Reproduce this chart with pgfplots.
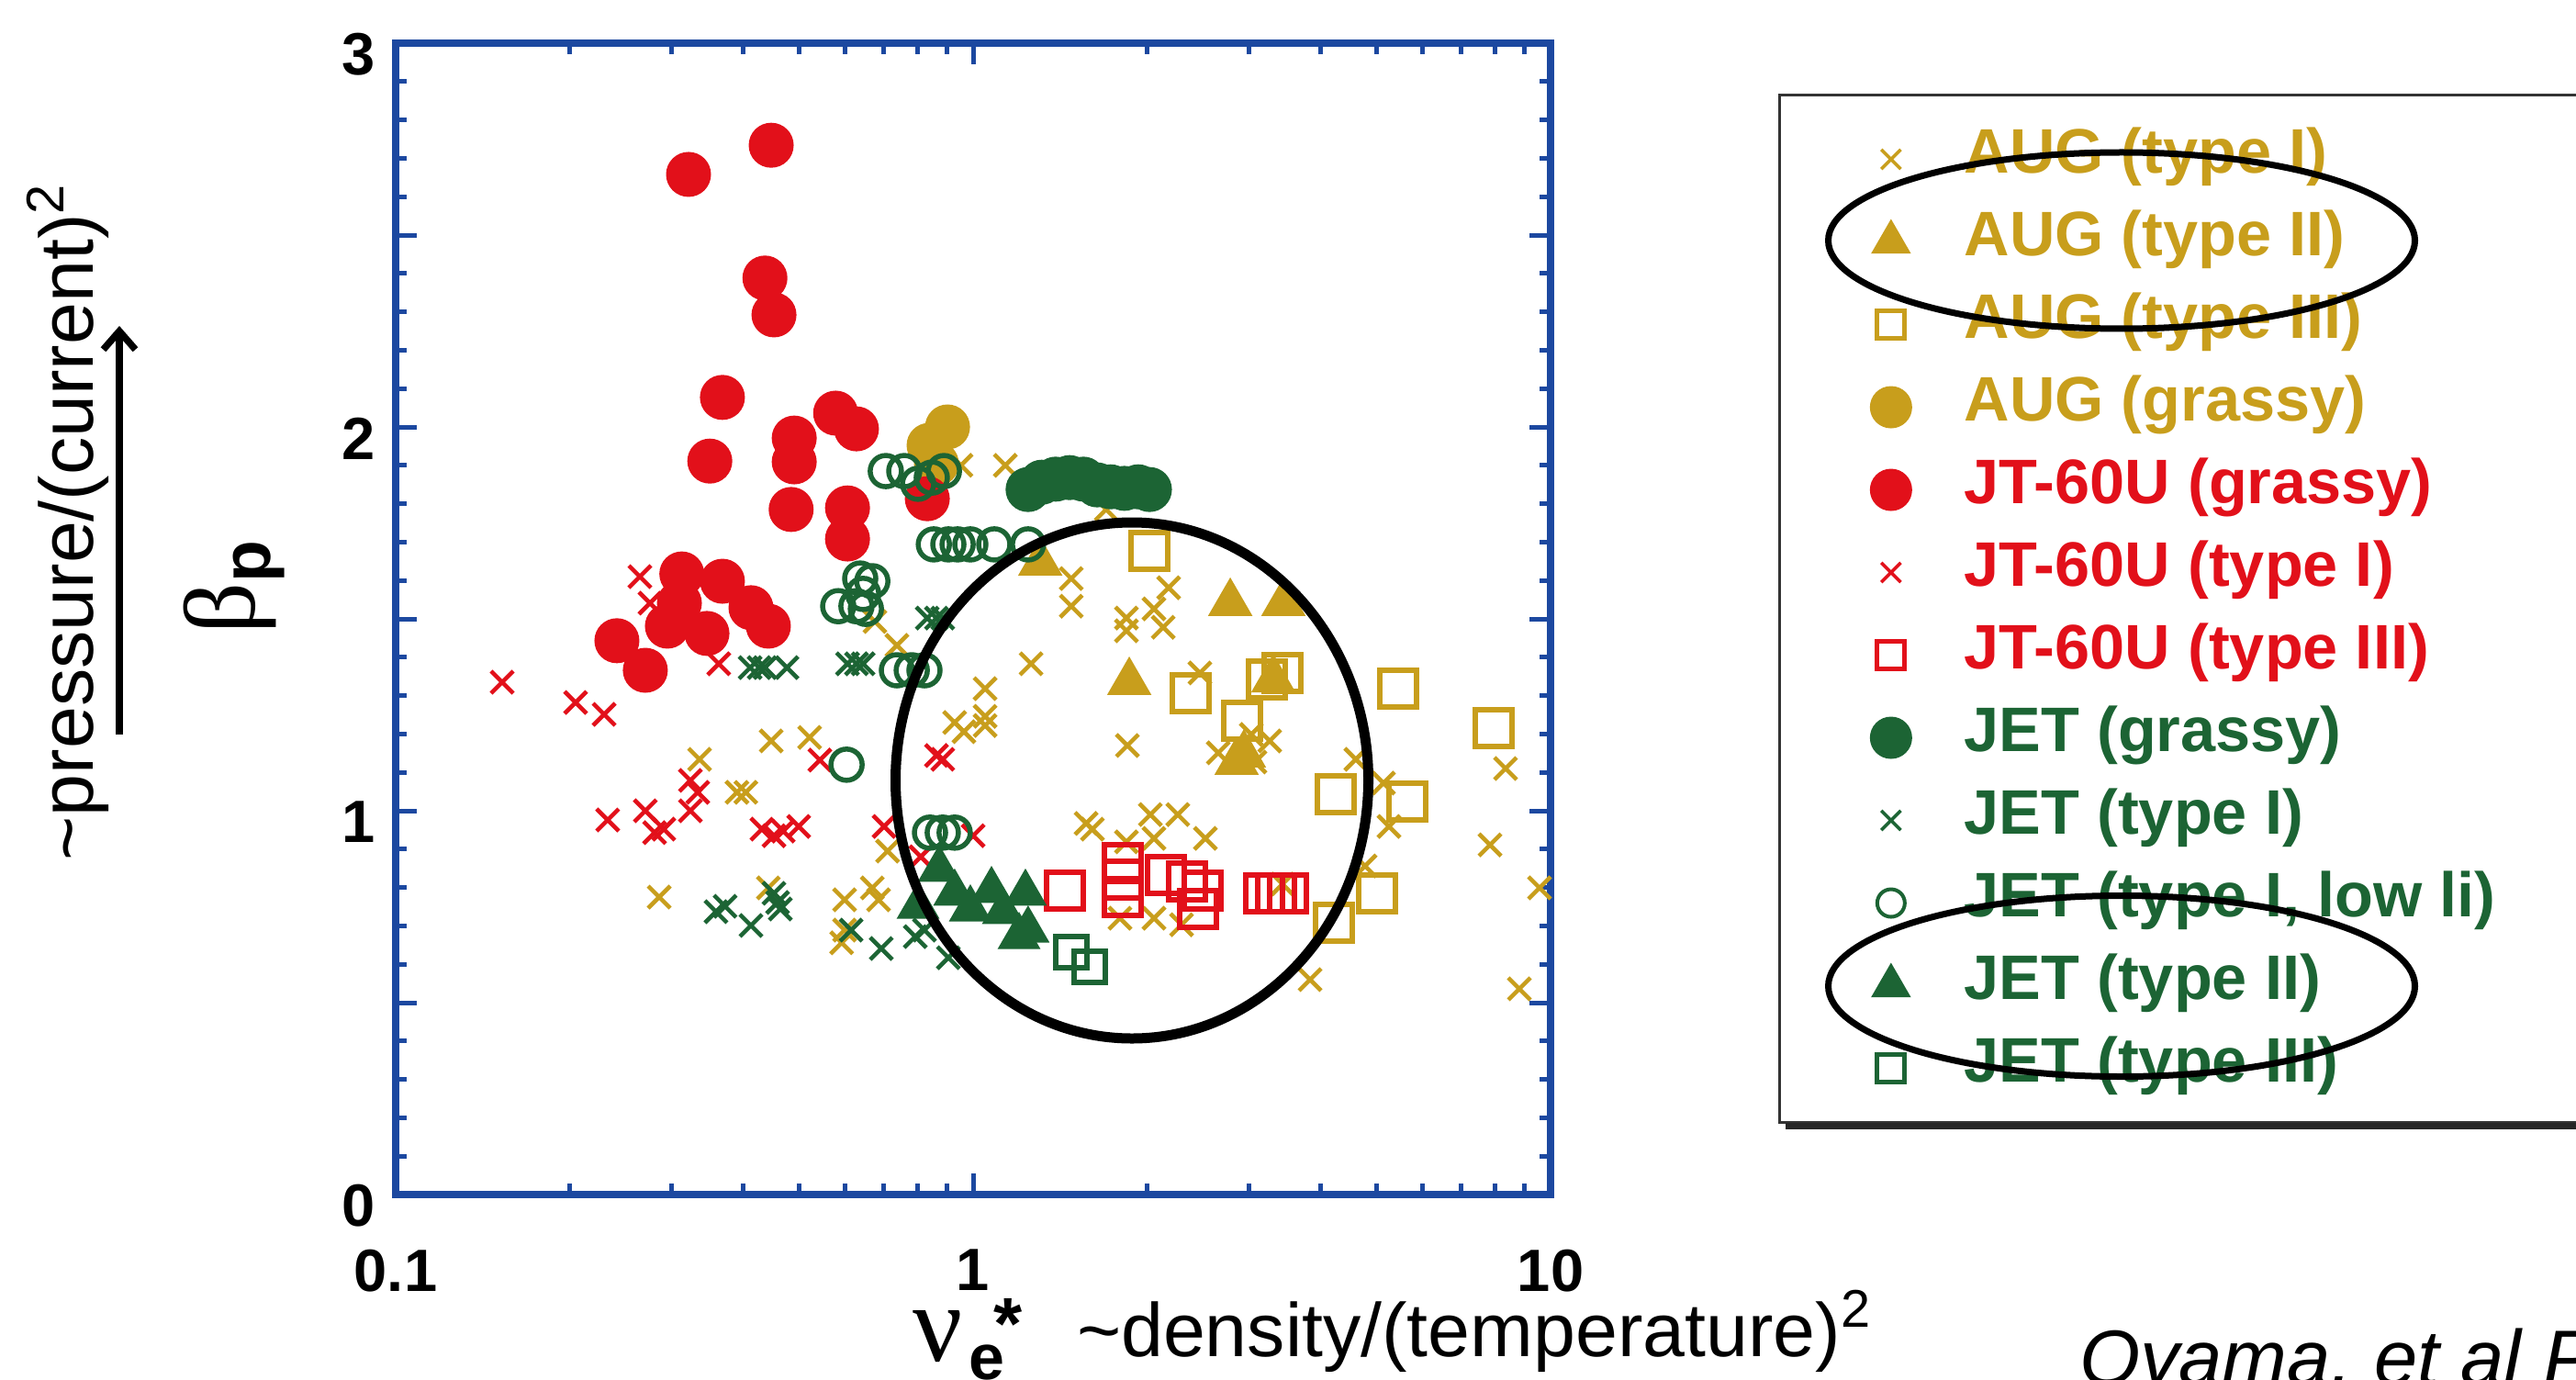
\documentclass[border=0pt]{standalone}
\usepackage{pgfplots}
\pgfplotsset{compat=1.18}
\usepackage{fontspec}
\setmainfont{Liberation Sans}
\newfontfamily\arial{Liberation Sans}
\newfontfamily\tnr{Liberation Serif}
\usetikzlibrary{arrows.meta}
\definecolor{aug}{RGB}{200,158,28}
\definecolor{jt}{RGB}{226,16,26}
\definecolor{jet}{RGB}{28,100,52}
\definecolor{axblue}{RGB}{28,72,160}
\newcommand{\tickfont}{\arial\bfseries\fontsize{13pt}{14pt}\selectfont}
\newcommand{\legfont}{\arial\bfseries\fontsize{13.7pt}{16pt}\selectfont}
\begin{document}
\begin{tikzpicture}
\useasboundingbox (0,0) rectangle (561.2pt,300.4pt);
\clip (0,0) rectangle (561.2pt,300.4pt);
\fill[white] (0,0) rectangle (561.2pt,300.4pt);
\begin{axis}[
  at={(86.2pt,40.2pt)}, anchor=south west, scale only axis,
  width=251.6pt, height=250.8pt,
  xmode=log, log basis x=10, xmin=0.1, xmax=10, ymin=0, ymax=3,
  xtick={0.1,1,10}, xticklabels={0.1,1,10},
  minor xtick={0.2,0.3,0.4,0.5,0.6,0.7,0.8,0.9,2,3,4,5,6,7,8,9},
  ytick={0,0.5,1,1.5,2,2.5,3}, yticklabels={0,,1,,2,,3},
  minor y tick num=4,
  tick align=inside, tick pos=both,
  axis line style={draw=axblue, line width=1.6pt},
  every tick/.style={draw=axblue, line width=1pt},
  major tick length=4.6pt, minor tick length=2.4pt,
  tick label style={font=\tickfont},
  /pgf/number format/assume math mode=true,
  xticklabel style={yshift=-8.4pt},
  yticklabel style={xshift=-1pt, yshift=-2.5pt},
  legend style={at={(axis description cs:1.2773,0.935)}, anchor=north west,
    draw=none, fill=none, inner sep=0pt, outer sep=0pt,
    row sep=0pt, column sep=11.57pt, font=\legfont,
    nodes={inner sep=0pt, text height=12pt, text depth=6pt}},
  legend cell align=left,
]
% AUG type I
\addplot[only marks, mark=x, mark size=3.4pt, draw=aug, line width=0.9pt, legend image post style={mark size=3pt, line width=0.7pt}] coordinates {
(0.953,1.900) (1.137,1.900) (0.676,1.493) (0.738,1.431) (1.479,1.605) (1.479,1.533)
(1.700,1.785) (2.181,1.581) (2.057,1.526) (1.843,1.502) (1.843,1.469) (2.134,1.478)
(1.260,1.383) (1.049,1.318) (2.470,1.359) (2.658,1.151) (3.032,1.199) (3.263,1.182)
(3.077,1.127) (2.525,0.928) (4.60,1.134) (5.136,1.072) (5.250,0.959) (3.833,0.560)
(4.773,0.856) (8.357,1.110) (7.856,0.911) (9.570,0.799) (8.830,0.536) (3.434,0.809)
(0.929,1.230) (0.964,1.206) (1.049,1.246) (1.049,1.222) (1.850,1.170) (1.569,0.967)
(1.609,0.952) (2.027,0.990) (2.262,0.990) (2.057,0.928) (1.843,0.919) (1.796,0.720)
(2.057,0.720) (2.296,0.703) (0.711,0.895) (0.599,0.768) (0.669,0.799) (0.686,0.768)
(0.592,0.656) (0.599,0.689) (0.336,1.134) (0.390,1.048) (0.404,1.048) (0.447,1.182)
(0.521,1.191) (0.286,0.775) (0.442,0.799)
};
\addlegendentry{\textcolor{aug}{AUG (type I)}}
% AUG type II
\addplot[only marks, mark=triangle*, mark size=5.2pt, color=aug, legend image post style={mark size=4.6pt}] coordinates {
(1.307,1.646) (1.864,1.335) (2.788,1.541) (3.447,1.541) (2.860,1.127) (2.944,1.146) (3.311,1.342)
};
\addlegendentry{\textcolor{aug}{AUG (type II)}}
% AUG type III
\addplot[only marks, mark=square, mark size=4pt, draw=aug, line width=1.3pt, legend image post style={mark size=3pt, line width=1pt}] coordinates {
(2.020,1.677) (2.381,1.306) (3.434,1.359) (3.227,1.342) (5.446,1.318) (2.924,1.234)
(4.246,1.043) (5.649,1.024) (5.006,0.785) (4.215,0.708) (7.965,1.215)
};
\addlegendentry{\textcolor{aug}{AUG (type III)}}
% AUG grassy
\addplot[only marks, mark=*, mark size=4.7pt, color=aug, legend image post style={mark size=4.4pt}] coordinates {
(0.903,2.000) (0.839,1.952) (0.864,1.904)
};
\addlegendentry{\textcolor{aug}{AUG (grassy)}}
% JT-60U grassy
\addplot[only marks, mark=*, mark size=4.7pt, color=jt, legend image post style={mark size=4.4pt}] coordinates {
(0.3215,2.658) (0.447,2.734) (0.436,2.388) (0.452,2.292) (0.368,2.077) (0.350,1.911)
(0.490,1.971) (0.490,1.909) (0.578,2.036) (0.628,1.995) (0.484,1.785) (0.606,1.789)
(0.606,1.708) (0.833,1.813) (0.313,1.617) (0.368,1.598) (0.310,1.541) (0.2955,1.481)
(0.346,1.462) (0.4124,1.529) (0.442,1.481) (0.2416,1.443) (0.2706,1.366)
};
\addlegendentry{\textcolor{jt}{JT-60U (grassy)}}
% JT-60U type I
\addplot[only marks, mark=x, mark size=3.4pt, draw=jt, line width=0.9pt, legend image post style={mark size=3pt, line width=0.7pt}] coordinates {
(0.1529,1.335) (0.2049,1.282) (0.2296,1.251) (0.2648,1.610) (0.2757,1.541) (0.3627,1.383)
(0.2329,0.976) (0.2706,1.000) (0.2808,0.943) (0.2913,0.952) (0.3239,1.079) (0.3336,1.048)
(0.3239,1.000) (0.4307,0.952) (0.452,0.935) (0.4988,0.959) (0.5427,1.132) (0.864,1.144)
(0.886,1.134) (0.7012,0.959) (1.000,0.935) (0.8116,0.880) (0.469,0.947)
};
\addlegendentry{\textcolor{jt}{JT-60U (type I)}}
% JT-60U type III
\addplot[only marks, mark=square, mark size=4pt, draw=jt, line width=1.3pt, legend image post style={mark size=3pt, line width=1pt}] coordinates {
(1.442,0.792) (1.816,0.864) (1.816,0.775) (1.816,0.821) (2.158,0.833) (2.346,0.816)
(2.452,0.744) (2.497,0.792) (3.191,0.785) (3.346,0.785) (3.510,0.785)
};
\addlegendentry{\textcolor{jt}{JT-60U (type III)}}
% JET grassy
\addplot[only marks, mark=*, mark size=4.7pt, color=jet, legend image post style={mark size=4.4pt}] coordinates {
(1.245,1.837) (1.315,1.856) (1.390,1.864) (1.469,1.868) (1.552,1.864) (1.640,1.849)
(1.730,1.844) (1.828,1.840) (1.932,1.844) (2.020,1.837)
};
\addlegendentry{\textcolor{jet}{JET (grassy)}}
% JET type I
\addplot[only marks, mark=x, mark size=3.4pt, draw=jet, line width=0.9pt, legend image post style={mark size=3pt, line width=0.7pt}] coordinates {
(0.411,1.373) (0.426,1.373) (0.436,1.373) (0.476,1.373) (0.833,1.502) (0.864,1.502)
(0.886,1.502) (0.606,1.383) (0.628,1.383) (0.645,1.383) (0.3587,0.737) (0.372,0.751)
(0.4124,0.701) (0.452,0.785) (0.4585,0.761) (0.4636,0.744) (0.6148,0.689) (0.6934,0.641)
(0.7940,0.672) (0.8236,0.689) (0.906,0.617)
};
\addlegendentry{\textcolor{jet}{JET (type I)}}
% JET type I low li
\addplot[only marks, mark=o, mark size=3.4pt, draw=jet, line width=1.1pt, legend image post style={mark size=3pt, line width=0.8pt}] coordinates {
(0.706,1.885) (0.760,1.885) (0.803,1.852) (0.848,1.868) (0.890,1.885) (0.855,1.694)
(0.906,1.694) (0.940,1.694) (0.989,1.694) (1.088,1.694) (1.245,1.694) (0.6375,1.605)
(0.669,1.598) (0.645,1.565) (0.584,1.533) (0.628,1.533) (0.652,1.526) (0.738,1.366)
(0.783,1.366) (0.8236,1.366) (0.6037,1.120) (0.842,0.943) (0.886,0.943) (0.929,0.943)
};
\addlegendentry{\textcolor{jet}{JET (type I, low li)}}
% JET type II
\addplot[only marks, mark=triangle*, mark size=5pt, color=jet, legend image post style={mark size=4.6pt}] coordinates {
(0.803,0.751) (0.8734,0.847) (0.929,0.785) (0.989,0.744) (1.076,0.792) (1.128,0.737)
(1.232,0.785) (1.245,0.689) (1.201,0.672)
};
\addlegendentry{\textcolor{jet}{JET (type II)}}
% JET type III
\addplot[only marks, mark=square, mark size=3.4pt, draw=jet, line width=1.2pt, legend image post style={mark size=3pt, line width=1pt}] coordinates {
(1.479,0.632) (1.592,0.593)
};
\addlegendentry{\textcolor{jet}{JET (type III)}}
\end{axis}
% annotations
\draw[line width=2.2pt] (246.6pt,130.4pt) ellipse [x radius=51.5pt, y radius=56.2pt];
\draw[line width=0.6pt, draw=black!80] (387.6pt,56pt) rectangle (640pt,279.6pt);
\draw[line width=1.4pt, draw=black!85] (389pt,55.2pt) -- (640pt,55.2pt);
\draw[line width=1.4pt] (462.2pt,248pt) ellipse [x radius=63.9pt, y radius=19.2pt];
\draw[line width=1.4pt] (462.2pt,85.6pt) ellipse [x radius=63.9pt, y radius=19.7pt];
% axis labels
\node[rotate=90, inner sep=0pt, font=\arial\fontsize{16.5pt}{18pt}\selectfont] at (14.8pt,186.8pt) {\textasciitilde pressure/(current)\textsuperscript{2}};
\draw[line width=1.5pt, -{Straight Barb[length=4pt, width=7pt, line width=1.5pt]}] (26pt,140.4pt) -- (26pt,229.4pt);
\node[rotate=90, inner sep=0pt] at (51pt,172.4pt) {{\tnr\fontsize{22pt}{22pt}\selectfont β}\raisebox{-3.5pt}{\arial\bfseries\fontsize{15pt}{15pt}\selectfont p}};
\node[anchor=base west, inner sep=0pt] at (198.6pt,4pt) {{\tnr\fontsize{24pt}{24pt}\selectfont ν}\hspace{1.5pt}\raisebox{-4pt}{\arial\bfseries\fontsize{14pt}{14pt}\selectfont e}\hspace{-2.5pt}\raisebox{2.5pt}{\arial\bfseries\fontsize{16pt}{16pt}\selectfont *}};
\node[anchor=base west, inner sep=0pt, font=\arial\fontsize{16.5pt}{18pt}\selectfont] at (234.4pt,5pt) {\textasciitilde density/(temperature)\textsuperscript{2}};
\node[anchor=base west, inner sep=0pt, font=\arial\itshape\fontsize{17pt}{18pt}\selectfont] at (452.8pt,-1.2pt) {Oyama, et al PPCF 2006};
\end{tikzpicture}
\end{document}
